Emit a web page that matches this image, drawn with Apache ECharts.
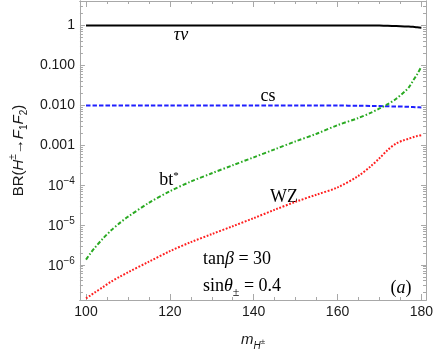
<!DOCTYPE html>
<html>
<head>
<meta charset="utf-8">
<script src="https://cdn.jsdelivr.net/npm/echarts@6/dist/echarts.min.js"></script>
<style>html,body{margin:0;padding:0;background:#fff;}#c{width:436px;height:356px;}</style>
</head>
<body>
<div id="c"></div>
<script>
// ---- data ----
const mass = [100,101,102,104,106,108,110,115,120,125,130,135,140,145,150,155,160,165,168,170,172,174,176,177,178,179,180];
const tauNu = [1,1,1,1,1,1,1,1,1,1,1,1,1,1,1,1,1,1,0.995,0.99,0.98,0.965,0.945,0.935,0.92,0.90,0.88];
const cs = [0.0098,0.0098,0.0098,0.0098,0.0098,0.0098,0.0098,0.0098,0.0098,0.0098,0.0098,0.0098,0.0098,0.0098,0.0098,0.0098,0.0098,0.0097,0.0096,0.0095,0.0094,0.0093,0.0092,0.0091,0.0090,0.0089,0.0088];
const btStar = [1.35e-6,1.91e-6,2.6e-6,4.52e-6,7.33e-6,1.11e-5,1.6e-5,3.59e-5,7.0e-5,1.22e-4,1.97e-4,3.13e-4,4.95e-4,7.85e-4,1.245e-3,1.93e-3,3.16e-3,4.8e-3,6.5e-3,8.3e-3,1.07e-2,1.45e-2,2.19e-2,2.8e-2,4.1e-2,6.0e-2,9.3e-2];
const wz = [1.45e-7,1.7e-7,2.0e-7,2.75e-7,3.8e-7,5.0e-7,6.5e-7,1.2e-6,2.2e-6,3.7e-6,5.9e-6,9.3e-6,1.48e-5,2.4e-5,3.8e-5,5.75e-5,8.7e-5,1.7e-4,3.0e-4,4.7e-4,7.6e-4,1.1e-3,1.35e-3,1.45e-3,1.58e-3,1.7e-3,1.78e-3];
const xTicks = [100,120,140,160,180];
const xMinorTicks = [105,110,115,125,130,135,145,150,155,165,170,175];
const yTicks = [1e-6,1e-5,1e-4,1e-3,1e-2,1e-1,1];
// ---------------------------------------

const X_MIN = 98.55, X_MAX = 181.1;
const Y_MIN = Math.pow(10,-6.881), Y_MAX = Math.pow(10,0.612);
const yMinor = [];
for (let e = -7; e <= 0; e++) for (let k = 2; k <= 9; k++) { const v = k*Math.pow(10,e); if (v > Y_MIN && v < Y_MAX) yMinor.push(v); }

const FRAME = '#a8a8a8';
const TICKC = '#a8a8a8';
const SANS = 'Liberation Sans, Arial, sans-serif';
const SERIF = 'Liberation Serif, Times New Roman, serif';

function yLabel(v) {
  const e = Math.round(Math.log10(v));
  if (e === 0) return '1';
  if (e === -1) return '0.100';
  if (e === -2) return '0.010';
  if (e === -3) return '0.001';
  return '{b|10}{s|\u2212' + (-e) + '}';
}

function xAx(pos, major, showLabel) {
  return {
    type: 'value', position: pos, min: X_MIN, max: X_MAX,
    axisLine: { show: true, onZero: false, lineStyle: { color: FRAME, width: 1 } },
    axisTick: { show: true, inside: true, length: major ? 6 : 3, customValues: major ? xTicks : xMinorTicks, lineStyle: { color: TICKC } },
    axisLabel: { show: showLabel, customValues: xTicks, margin: 5, color: '#1a1a1a', fontFamily: SANS, fontSize: 14 },
    splitLine: { show: false }
  };
}
function yAx(pos, major, showLabel) {
  return {
    type: 'log', logBase: 10, position: pos, min: Y_MIN, max: Y_MAX,
    axisLine: { show: true, onZero: false, lineStyle: { color: FRAME, width: 1 } },
    axisTick: { show: true, inside: true, length: major ? 5 : 3, customValues: major ? yTicks : yMinor, lineStyle: { color: TICKC } },
    axisLabel: { show: showLabel, customValues: yTicks, margin: 5, color: '#1a1a1a', fontFamily: SANS, fontSize: 14,
      formatter: yLabel,
      rich: { b: { fontFamily: SANS, fontSize: 14, color: '#1a1a1a', verticalAlign: 'bottom' },
              s: { fontFamily: SANS, fontSize: 10, color: '#1a1a1a', verticalAlign: 'bottom', padding: [0,0,7,0] } } },
    splitLine: { show: false }, minorTick: { show: false }
  };
}

const xAxes = [xAx('bottom', true, true), xAx('bottom', false, false), xAx('top', true, false), xAx('top', false, false)];
xAxes[0].name = '{i|m}{sub|H}{ss|\u00b1}';
xAxes[0].nameLocation = 'middle';
xAxes[0].nameGap = 32;
xAxes[0].nameTextStyle = { rich: {
  i: { fontFamily: SANS, fontStyle: 'italic', fontSize: 15, color: '#1a1a1a', verticalAlign: 'bottom', padding: [0,0,4,0] },
  sub: { fontFamily: SANS, fontStyle: 'italic', fontSize: 10, color: '#1a1a1a', verticalAlign: 'bottom' },
  ss: { fontFamily: SANS, fontSize: 8, color: '#1a1a1a', verticalAlign: 'bottom', padding: [0,0,5,0] } } };

const yAxes = [yAx('left', true, true), yAx('left', false, false), yAx('right', true, false), yAx('right', false, false)];
yAxes[0].name = '{n|BR(}{i|H}{sup|\u00b1}{n|\u2192}{i|F}{sub|1}{i|F}{sub|2}{n|)}';
yAxes[0].nameLocation = 'middle';
yAxes[0].nameRotate = 90;
yAxes[0].nameGap = 50;
const nb = { fontFamily: SANS, fontSize: 15, color: '#1a1a1a', verticalAlign: 'bottom', padding: [0,0,3,0] };
yAxes[0].nameTextStyle = { rich: {
  n: nb,
  i: Object.assign({}, nb, { fontStyle: 'italic' }),
  sup: { fontFamily: SANS, fontSize: 10, color: '#1a1a1a', verticalAlign: 'bottom', padding: [0,0,11,0] },
  sub: { fontFamily: SANS, fontSize: 10, color: '#1a1a1a', verticalAlign: 'bottom', padding: [0,0,0,0] } } };

function pts(arr) { return mass.map((m, i) => [m, arr[i]]); }
function line(name, arr, color, type) {
  return { name: name, type: 'line', xAxisIndex: 0, yAxisIndex: 0, data: pts(arr), smooth: 0.3, showSymbol: false, symbol: 'none',
    lineStyle: { color: color, width: 2, type: type }, z: 3, animation: false };
}

const chart = echarts.init(document.getElementById('c'), null, { renderer: 'canvas' });
const serifStyle = (extra) => Object.assign({ fontFamily: SERIF, fontSize: 18, fill: '#000' }, extra || {});
chart.setOption({
  animation: false,
  grid: { left: 67, right: 10, top: 1, bottom: 47, containLabel: false },
  xAxis: xAxes,
  yAxis: yAxes,
  series: [
    line('τν', tauNu, '#000000', 'solid'),
    line('cs', cs, '#1f1fff', [4.5, 2]),
    line('bt*', btStar, '#2aaa22', [4, 2, 1.5, 2]),
    line('WZ', wz, '#ff1f1f', [1.8, 1.6])
  ],
  graphic: [
    { type: 'text', x: 181, y: 35, style: { text: '\u03c4\u03bd', fontFamily: SERIF, fontSize: 18, fontStyle: 'italic', fill: '#000', align: 'center', verticalAlign: 'middle' } },
    { type: 'text', x: 268, y: 96, style: serifStyle({ text: 'cs', align: 'center', verticalAlign: 'middle' }) },
    { type: 'text', x: 169, y: 180, style: { text: '{t|bt}{s|*}', align: 'center', verticalAlign: 'middle',
        rich: { t: { fontFamily: SERIF, fontSize: 18, fill: '#000', verticalAlign: 'bottom' }, s: { fontFamily: SERIF, fontSize: 11, fill: '#000', verticalAlign: 'bottom', padding: [0,0,8,0] } } } },
    { type: 'text', x: 284, y: 197, style: serifStyle({ text: 'WZ', align: 'center', verticalAlign: 'middle' }) },
    { type: 'text', x: 203, y: 259, style: { text: '{r|tan}{i|\u03b2}{r| = 30}', align: 'left', verticalAlign: 'middle',
        rich: { r: { fontFamily: SERIF, fontSize: 18, fill: '#000' }, i: { fontFamily: SERIF, fontSize: 18, fontStyle: 'italic', fill: '#000' } } } },
    { type: 'text', x: 203, y: 288, style: { text: '{r|sin}{i|\u03b8}{s|\u00b1}{r| = 0.4}', align: 'left', verticalAlign: 'middle',
        rich: { r: { fontFamily: SERIF, fontSize: 18, fill: '#000', verticalAlign: 'bottom', padding: [0,0,3,0] },
                i: { fontFamily: SERIF, fontSize: 18, fontStyle: 'italic', fill: '#000', verticalAlign: 'bottom', padding: [0,0,3,0] },
                s: { fontFamily: SERIF, fontSize: 12, fill: '#000', verticalAlign: 'bottom' } } } },
    { type: 'text', x: 401, y: 288, style: { text: '{r|(}{i|a}{r|)}', align: 'center', verticalAlign: 'middle',
        rich: { r: { fontFamily: SERIF, fontSize: 18, fill: '#000' }, i: { fontFamily: SERIF, fontSize: 18, fontStyle: 'italic', fill: '#000' } } } }
  ]
});
</script>
</body>
</html>
